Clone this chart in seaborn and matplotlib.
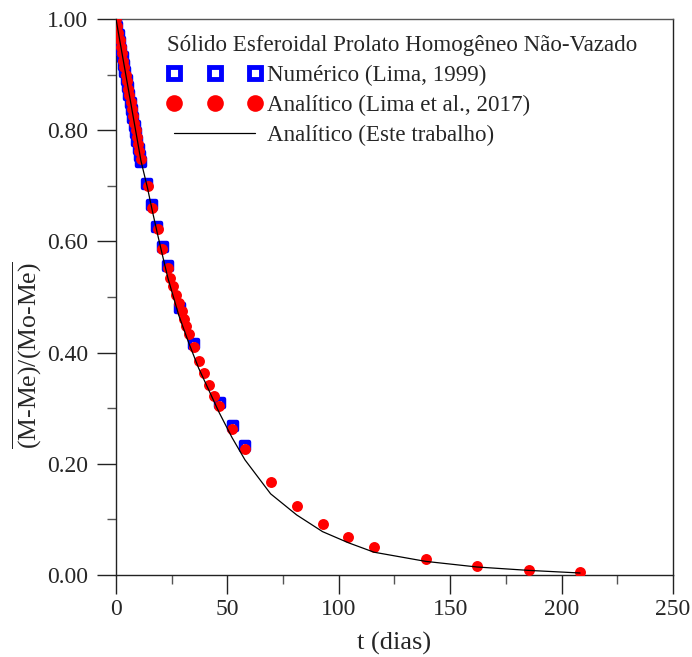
import matplotlib
matplotlib.use("Agg")
import matplotlib.pyplot as plt
import matplotlib.lines as mlines
from matplotlib.ticker import MultipleLocator, FormatStrFormatter
import seaborn as sns
import pandas as pd

# ---- data ----
num_t = [0.0, 0.6, 1.2, 1.8, 2.4, 3.0, 3.6, 4.2, 4.8, 5.4, 6.0, 6.6, 7.2, 7.8, 8.4,
         9.0, 9.6, 10.2, 10.8, 11.4, 13.8, 16.1, 18.6, 20.9, 23.4, 28.9, 35.1,
         46.5, 52.4, 58.1]
num_v = [1.000, 0.986, 0.972, 0.959, 0.945, 0.931, 0.918, 0.904, 0.890, 0.877, 0.863,
         0.849, 0.836, 0.822, 0.808, 0.795, 0.781, 0.767, 0.754, 0.742, 0.703, 0.665,
         0.626, 0.590, 0.556, 0.481, 0.415, 0.310, 0.268, 0.232]

ana_t = [0.0, 0.5, 1.1, 1.6, 2.2, 2.7, 3.3, 3.8, 4.4, 4.9, 5.5, 6.0, 6.6, 7.1, 7.7,
         8.2, 8.8, 9.3, 9.9, 10.4, 11.0, 14.2, 16.3, 18.7, 20.8, 23.3, 24.3, 25.4,
         26.8, 28.1, 29.4, 30.6, 31.5, 32.6, 35.0, 37.1, 39.5, 41.6, 44.0, 46.2,
         52.1, 57.9, 69.4, 81.1, 92.7, 104.3, 115.8, 139.0, 162.0, 185.2, 208.3]
ana_v = [1.000, 0.988, 0.975, 0.963, 0.950, 0.938, 0.925, 0.913, 0.900, 0.888, 0.875,
         0.863, 0.850, 0.838, 0.825, 0.813, 0.800, 0.788, 0.775, 0.763, 0.749, 0.700,
         0.660, 0.622, 0.586, 0.552, 0.535, 0.519, 0.504, 0.489, 0.475, 0.460, 0.447,
         0.434, 0.410, 0.385, 0.363, 0.342, 0.322, 0.304, 0.262, 0.226, 0.167, 0.124,
         0.092, 0.068, 0.051, 0.0288, 0.0167, 0.0095, 0.0054]

lin_t = [0.0, 11.2, 14.2, 16.3, 18.7, 20.8, 23.3, 28.1, 32.6, 37.1, 41.6, 46.2, 52.1,
         57.9, 69.4, 81.1, 92.7, 104.3, 115.8, 139.0, 162.0, 185.2, 208.3]
lin_v = [1.000, 0.745, 0.695, 0.655, 0.612, 0.576, 0.534, 0.468, 0.418, 0.372, 0.333,
         0.293, 0.247, 0.207, 0.146, 0.108, 0.078, 0.058, 0.041, 0.0245, 0.0144,
         0.0083, 0.0036]

legend_title = "Sólido Esferoidal Prolato Homogêneo Não-Vazado"
lab_num = "Numérico (Lima, 1999)"
lab_ana = "Analítico (Lima et al., 2017)"
lab_lin = "Analítico (Este trabalho)"
x_label = "t (dias)"

# ---- style ----
sns.set_style("ticks")
plt.rcParams["font.family"] = ["Liberation Serif", "DejaVu Serif"]
plt.rcParams["mathtext.fontset"] = "custom"
plt.rcParams["mathtext.rm"] = "Liberation Serif"
plt.rcParams["mathtext.it"] = "Liberation Serif:italic"
plt.rcParams["mathtext.sf"] = "Liberation Serif"

fig = plt.figure(figsize=(6.92, 6.57), dpi=100)
ax = fig.add_axes([116 / 692, 1 - 575 / 657, (673 - 116) / 692, (575 - 19) / 657])

df_num = pd.DataFrame({"t": num_t, "v": num_v})
df_ana = pd.DataFrame({"t": ana_t, "v": ana_v})
df_lin = pd.DataFrame({"t": lin_t, "v": lin_v})

blue = "#0000ff"
red = "#ff0000"

sns.scatterplot(data=df_num, x="t", y="v", marker="s", s=40, facecolor="white",
                edgecolor=blue, linewidth=3.2, ax=ax, zorder=3, legend=False)
sns.scatterplot(data=df_ana, x="t", y="v", marker="o", s=62, color=red,
                edgecolor=red, linewidth=0, ax=ax, zorder=4, legend=False)
sns.lineplot(data=df_lin, x="t", y="v", color="black", linewidth=0.9, ax=ax,
             zorder=5, sort=False, estimator=None)

ax.set_xlim(0, 250)
ax.set_ylim(0, 1.0)
ax.xaxis.set_major_locator(MultipleLocator(50))
ax.xaxis.set_minor_locator(MultipleLocator(25))
ax.yaxis.set_major_locator(MultipleLocator(0.2))
ax.yaxis.set_minor_locator(MultipleLocator(0.1))
ax.yaxis.set_major_formatter(FormatStrFormatter("%.2f"))

for s in ax.spines.values():
    s.set_linewidth(1.0)
    s.set_color("#222222")
ax.spines["top"].set_color("#555555")
ax.tick_params(axis="both", which="major", direction="out", length=13.5, width=1.0,
               color="#222222", labelsize=17)
ax.tick_params(axis="x", which="major", pad=4)
ax.tick_params(axis="y", which="major", pad=6.5)
ax.tick_params(axis="both", which="minor", direction="out", length=6.3, width=1.0,
               color="#555555")
ax.tick_params(top=False, right=False, which="both")

ax.set_xlabel(x_label, fontsize=19, labelpad=8)
ax.set_ylabel(r"$\overline{\text{(M-Me)/(Mo-Me)}}$", fontsize=18.5)
ax.yaxis.set_label_coords(-0.13, 0.395)

h_num = mlines.Line2D([], [], linestyle="none", marker="s", markersize=8.6,
                      markerfacecolor="white", markeredgecolor=blue,
                      markeredgewidth=3.5)
h_ana = mlines.Line2D([], [], linestyle="none", marker="o", markersize=12.0,
                      markerfacecolor=red, markeredgecolor=red, markeredgewidth=0)
h_lin = mlines.Line2D([], [], color="black", linewidth=0.9)
leg = ax.legend([h_num, h_ana, h_lin], [lab_num, lab_ana, lab_lin],
                title=legend_title, loc="upper left",
                bbox_to_anchor=(0.084, 0.979), frameon=False, numpoints=3,
                markerscale=1.0, handlelength=4.1, handletextpad=0.2,
                labelspacing=0.38, fontsize=16.6, title_fontsize=16.6,
                borderpad=0.2, borderaxespad=0.0)
leg._legend_box.align = "left"

fig.savefig("out.png", dpi=100)
